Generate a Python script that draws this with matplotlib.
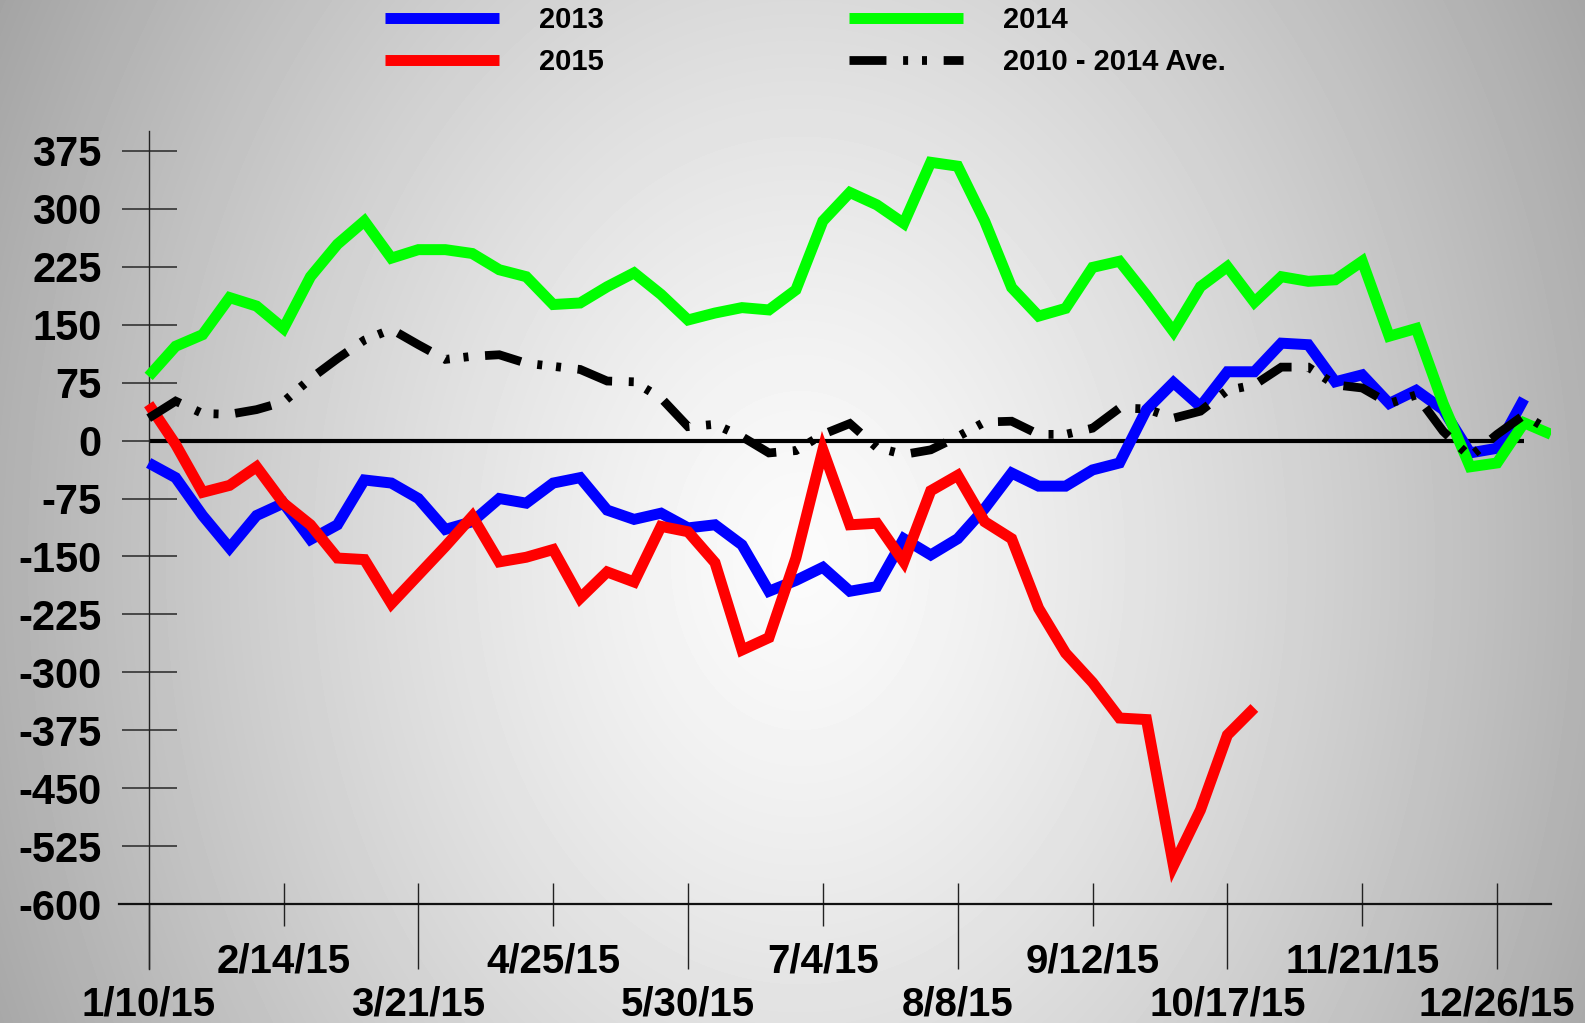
import numpy as np
import matplotlib
matplotlib.use("Agg")
import matplotlib.pyplot as plt

# ---------------- data ----------------
week_tick_labels = ["1/10/15", "2/14/15", "3/21/15", "4/25/15", "5/30/15", "7/4/15",
                    "8/8/15", "9/12/15", "10/17/15", "11/21/15", "12/26/15"]

s2013 = [-29, -48, -97, -139, -97, -81, -128, -109, -51, -55, -75, -115, -105, -75, -81,
         -55, -48, -90, -102, -94, -113, -109, -135, -195, -181, -164, -195, -189, -127,
         -148, -127, -88, -42, -59, -59, -38, -29, 40, 75, 44, 89, 89, 126, 124, 76, 85,
         48, 65, 40, -16, -10, 54]

s2014 = [83, 122, 137, 185, 174, 145, 212, 254, 284, 236, 247, 247, 242, 221, 212, 176,
         178, 199, 217, 189, 156, 165, 172, 169, 195, 284, 321, 305, 281, 360, 355, 284,
         198, 161, 171, 224, 232, 188, 141, 199, 225, 179, 212, 206, 208, 232, 135, 145,
         48, -34, -29, 23, 8]

s2015 = [47, -5, -67, -58, -34, -81, -109, -152, -154, -211, -174, -137, -98, -157, -151,
         -141, -204, -170, -183, -111, -118, -158, -271, -255, -152, -12, -109, -107, -157,
         -65, -45, -105, -127, -217, -275, -313, -359, -361, -550, -478, -381, -346]

avg_2010_2014 = [29, 51, 35, 34, 40, 50, 80, 106, 130, 144, 124, 105, 109, 111, 100, 96,
                 92, 77, 76, 55, 18, 21, 5, -16, -13, 8, 22, -9, -18, -12, 5, 24, 25, 8,
                 8, 16, 42, 41, 29, 38, 65, 72, 95, 95, 72, 68, 48, 59, 12, -21, 8, 33, 12]

y_ticks = list(range(-600, 376, 75))
series_names = ["2013", "2015", "2014", "2010 - 2014 Ave."]

# ---------------- figure ----------------
W, H, DPI = 1585, 1023, 100
plt.rcParams['font.family'] = ['Liberation Sans', 'DejaVu Sans']
plt.rcParams['font.weight'] = 'bold'
plt.rcParams['lines.scale_dashes'] = False

fig = plt.figure(figsize=(W / DPI, H / DPI), dpi=DPI)

# radial gray gradient background
bg = fig.add_axes([0, 0, 1, 1], zorder=0)
yy, xx = np.mgrid[0:H, 0:W]
d = np.sqrt(((xx - 800) / 800.0) ** 2 + ((yy - 560) / 1045.0) ** 2)
v = np.clip(251 - 74 * d ** 1.3, 150, 255) / 255.0
bg.imshow(v, cmap='gray', vmin=0, vmax=1, aspect='auto', extent=[0, W, H, 0])
bg.set_axis_off()

ax = fig.add_axes([119 / W, 0, (1551 - 119) / W, 1], zorder=1)
ax.set_facecolor('none')
ax.set_xlim(-1.1, 52.0)
ax.set_ylim(-753.6, 570)

w13 = np.arange(len(s2013))
w14 = np.arange(len(s2014))
w15 = np.arange(len(s2015))
wav = np.arange(len(avg_2010_2014))

lw = 7.9
common = dict(solid_capstyle='butt', solid_joinstyle='miter')
l13, = ax.plot(w13, s2013, color='#0000ff', lw=lw, zorder=3, **common)
l15, = ax.plot(w15, s2015, color='#ff0000', lw=lw, zorder=4, **common)
l14, = ax.plot(w14, s2014, color='#00ff00', lw=lw, zorder=5, **common)
lav, = ax.plot(wav, avg_2010_2014, color='black', lw=6.3, zorder=6,
               linestyle=(0, (26.6, 12, 3.6, 10, 3.6, 12)),
               dash_capstyle='butt', dash_joinstyle='miter')

# zero line
ax.hlines(0, w13[0], w13[-1], color='black', lw=3.0, zorder=2)

# spines
for s in ['top', 'right']:
    ax.spines[s].set_visible(False)
ax.spines['left'].set_position(('data', 0))
ax.spines['left'].set_bounds(-683.7, 400.5)
ax.spines['left'].set_linewidth(1.0)
ax.spines['left'].set_color('#222222')
ax.spines['bottom'].set_position(('data', -600))
ax.spines['bottom'].set_linewidth(1.6)
ax.spines['bottom'].set_color('#111111')

# y ticks
ax.set_yticks(y_ticks)
ax.set_yticklabels([str(t) for t in y_ticks])
ax.tick_params(axis='y', direction='inout', length=39.6, width=1.2, color='#333333',
               pad=14, labelsize=30)

# x ticks: long (major, lower labels) and short (minor, upper labels)
tick_pos = np.arange(len(week_tick_labels)) * 5
ax.set_xticks(tick_pos[0::2])
ax.set_xticklabels(week_tick_labels[0::2])
ax.set_xticks(tick_pos[1::2], minor=True)
ax.set_xticklabels(week_tick_labels[1::2], minor=True)
ax.tick_params(axis='x', which='major', direction='out', length=46.8, width=1.0,
               color='#222222', pad=12, labelsize=29)
ax.tick_params(axis='x', which='minor', direction='out', length=15.8, width=1.0,
               color='#222222', pad=12, labelsize=29)
# upward part of the x ticks
ax.vlines(tick_pos[1:], -600, -573, color='#222222', lw=1.0, zorder=2)
for lab in ax.get_xticklabels(which='both') + ax.get_yticklabels():
    lab.set_fontweight('bold')

# legend
handles = [l13, l15, l14, lav]
leg = ax.legend(handles, series_names, ncol=2, loc='upper left',
                bbox_to_anchor=(385 / W, 1 - 6 / H), bbox_transform=fig.transFigure,
                frameon=False, fontsize=21, handlelength=3.9, handletextpad=1.38,
                columnspacing=8.4, labelspacing=0.48, borderpad=0, borderaxespad=0)
for t in leg.get_texts():
    t.set_fontweight('bold')

fig.savefig('out.png', dpi=DPI)
